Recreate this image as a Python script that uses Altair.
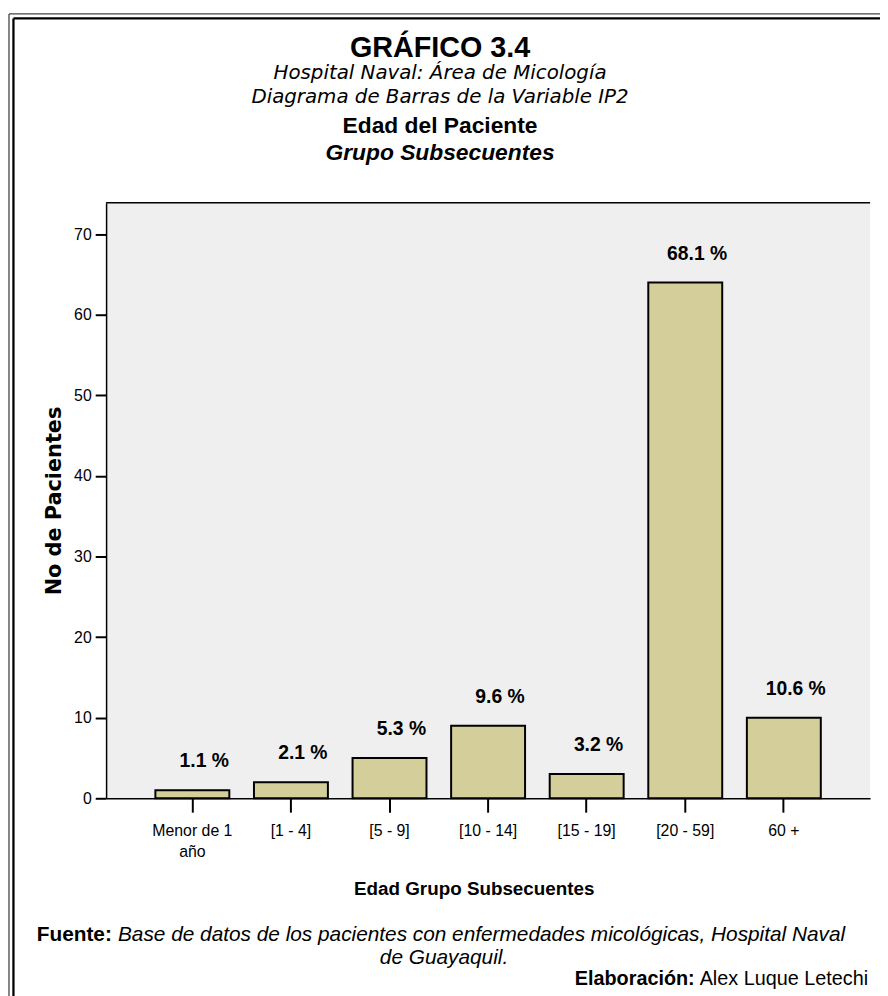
import altair as alt
import pandas as pd

# ---------------- data ----------------
categories = ["Menor de 1 año", "[1 - 4]", "[5 - 9]", "[10 - 14]", "[15 - 19]", "[20 - 59]", "60 +"]
counts = [1, 2, 5, 9, 3, 64, 10]
y_ticks = [0, 10, 20, 30, 40, 50, 60, 70]

title_main = "GRÁFICO 3.4"
subtitle_1 = "Hospital Naval: Área de Micología"
subtitle_2 = "Diagrama de Barras de la Variable IP2"
title_var = "Edad del Paciente"
title_group = "Grupo Subsecuentes"
x_title = "Edad Grupo Subsecuentes"
y_title = "No de Pacientes"
fuente_label = "Fuente:"
fuente_text = "Base de datos de los pacientes con enfermedades micológicas, Hospital Naval"
fuente_text2 = "de Guayaquil."
elab_label = "Elaboración:"
elab_text = "Alex Luque Letechi"

NARROW = "Liberation Sans Narrow, Arial Narrow, Liberation Sans, Arial, sans-serif"
ARIAL = "Liberation Sans, Arial, sans-serif"
VERDANA = "DejaVu Sans, Verdana, sans-serif"

W, H = 771, 601

df = pd.DataFrame({"cat": categories, "n": counts})

base = alt.Chart(df).transform_joinaggregate(total="sum(n)").transform_calculate(
    pct="format(100 * datum.n / datum.total, '.1f') + ' %'"
)

x_enc = alt.X(
    "cat:N",
    sort=categories,
    scale=alt.Scale(paddingInner=0.25, paddingOuter=0.5),
    axis=alt.Axis(
        title=x_title,
        labelAngle=0,
        labelExpr="datum.label == 'Menor de 1 año' ? ['Menor de 1', 'año'] : datum.label",
        labelFont=NARROW,
        labelFontSize=16,
        labelColor="black",
        labelPadding=11,
        labelLineHeight=21,
        labelOverlap=False,
        labelBound=False,
        labelFlush=False,
        domainColor="black",
        domainWidth=1.5,
        tickColor="black",
        tickWidth=2,
        tickSize=14,
        grid=False,
        titleFont=NARROW,
        titleFontWeight="bold",
        titleFontSize=19,
        titleColor="black",
        titleX=371,
        titleY=97,
        titleAlign="center",
        titleBaseline="alphabetic",
    ),
)

y_enc = alt.Y(
    "n:Q",
    scale=alt.Scale(domain=[0, 73.9], nice=False, zero=True),
    axis=alt.Axis(
        title=y_title,
        values=y_ticks,
        labelFont=NARROW,
        labelFontSize=16,
        labelColor="black",
        labelPadding=4,
        labelOverlap=False,
        labelBound=False,
        labelFlush=False,
        domainColor="black",
        domainWidth=1.5,
        tickColor="black",
        tickWidth=2,
        tickSize=11,
        grid=False,
        titleFont=VERDANA,
        titleFontWeight="bold",
        titleFontSize=21,
        titleColor="black",
        titleAngle=270,
        titleX=-52,
        titleY=H / 2,
        titleAlign="center",
        titleBaseline="middle",
    ),
)

bars = base.mark_bar(color="#D4CF9A", stroke="black", strokeWidth=2).encode(x=x_enc, y=y_enc)

labels = base.mark_text(
    font=NARROW, fontWeight="bold", fontSize=19.5, color="black", dy=-29, dx=12, baseline="middle"
).encode(
    x=x_enc,
    y=y_enc,
    text="pct:N",
)

one = pd.DataFrame({"k": [0]})


def txt(s, x, y, **kw):
    return alt.Chart(pd.DataFrame({"t": [s]})).mark_text(color="black", **kw).encode(
        x=alt.value(x), y=alt.value(y), text="t:N"
    )


def rule(x, y, x2, y2, color, width):
    return alt.Chart(one).mark_rule(color=color, strokeWidth=width).encode(
        x=alt.value(x), y=alt.value(y), x2=alt.value(x2), y2=alt.value(y2)
    )


top_border = rule(0, 0, W, 0, "black", 1.5)

frame = [
    rule(-98, -190.5, -98, 900, "#444444", 1.3),
    rule(-98, -190.5, 900, -190.5, "#444444", 1.3),
    rule(-93.5, -186, -93.5, 900, "black", 2.3),
    rule(-93.5, -186, 900, -186, "black", 2.3),
]

cx = 337
titles = [
    txt(title_main, cx, -147, font=ARIAL, fontWeight="bold", fontSize=29, align="center", baseline="alphabetic"),
    txt(subtitle_1, cx, -125, font=VERDANA, fontStyle="italic", fontSize=20, align="center", baseline="alphabetic"),
    txt(subtitle_2, cx, -101, font=VERDANA, fontStyle="italic", fontSize=20, align="center", baseline="alphabetic"),
    txt(title_var, cx, -70, font=NARROW, fontWeight="bold", fontSize=23, align="center", baseline="alphabetic"),
    txt(title_group, cx, -43, font=NARROW, fontWeight="bold", fontStyle="italic", fontSize=23, align="center", baseline="alphabetic"),
]

footer = [
    txt(fuente_label, -70, 745, font=ARIAL, fontWeight="bold", fontSize=21, align="left", baseline="alphabetic"),
    txt(fuente_text, 12, 745, font=ARIAL, fontStyle="italic", fontSize=21, align="left", baseline="alphabetic"),
    txt(fuente_text2, 341, 768, font=ARIAL, fontStyle="italic", fontSize=21, align="center", baseline="alphabetic"),
    txt(elab_label, 594, 789, font=ARIAL, fontWeight="bold", fontSize=20, align="right", baseline="alphabetic"),
    txt(elab_text, 599, 789, font=ARIAL, fontSize=20, align="left", baseline="alphabetic"),
]

chart = alt.layer(bars, labels, top_border, *frame, *titles, *footer).properties(
    width=W,
    height=H,
    padding={"left": 99, "top": 192, "right": 10, "bottom": 195},
    autosize=alt.AutoSizeParams(type="none"),
).configure(background="white").configure_view(fill="#EFEFEF", strokeWidth=0)

chart.save("out.html", embed_options={"renderer": "svg", "actions": False})
